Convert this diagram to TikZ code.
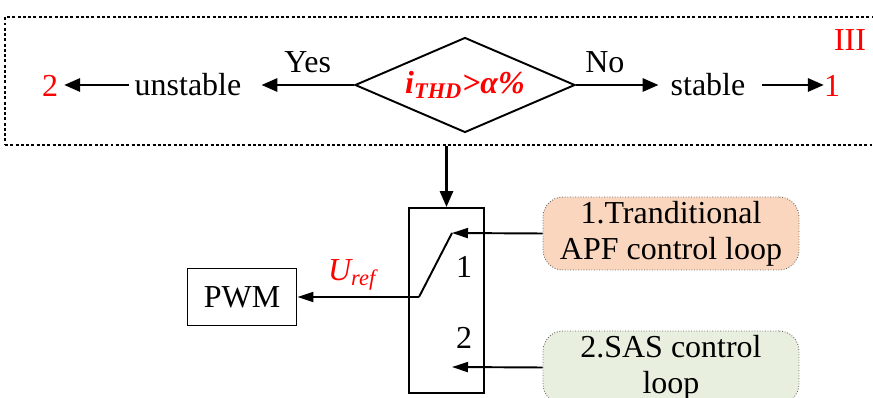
\documentclass[tikz,border=0pt]{standalone}
\usepackage{fontspec}
\setmainfont{Liberation Serif}
\usetikzlibrary{shapes.geometric, arrows.meta, positioning}

\definecolor{apffill}{RGB}{250,214,190}
\definecolor{sasfill}{RGB}{233,239,223}

\begin{document}
\begin{tikzpicture}[
    x=0.02cm, y=-0.02cm,
    font=\fontsize{18.2}{20.5}\selectfont,
    % decision diamond
    decision/.style={
        diamond,
        draw=black,
        line width=1.1pt,
        aspect=2.3,
        inner sep=0pt,
        minimum width=4.4cm,
        minimum height=1.9cm
    },
    % plain text block
    word/.style={
        inner sep=1pt
    },
    % red marker
    tag/.style={
        text=red,
        inner sep=1pt
    },
    % square blocks
    block/.style={
        rectangle,
        draw=black,
        line width=1.1pt,
        inner sep=0pt
    },
    % control loop boxes
    loopbox/.style={
        rectangle,
        rounded corners=20*0.02cm,
        draw=black!60,
        densely dotted,
        line width=0.5pt,
        minimum width=5.12cm,
        minimum height=1.46cm,
        align=center,
        inner sep=0pt
    },
    arrow/.style={
        -{Triangle[length=0.32cm, width=0.26cm]},
        line width=1.7pt
    },
    thinarrow/.style={
        -{Triangle[length=0.32cm, width=0.2cm]},
        line width=1.1pt
    }
]

\clip (0,0) rectangle (873,398);

% === Stability check (III) ===
\node[draw=black, line width=1.5pt, dash pattern=on 1.7pt off 1.3pt,
      minimum width=17.96cm, minimum height=2.56cm, inner sep=0pt] (frame) at (454,81) {};
\node[tag] (zone) at (850,40) {III};

\node[decision] (check) at (465,85) {\textcolor{red}{\bfseries\itshape i\textsubscript{THD}>α\%}};

\node[word] (unstable) at (188,85) {unstable};
\node[tag] (two) at (50,86) {2};
\node[word] (stable) at (708,85) {stable};
\node[tag] (one) at (832,86) {1};

\draw[arrow] (check.west) -- node[above=3pt, pos=0.5] (yes) {Yes} ([xshift=18*0.02cm]unstable.east);
\draw[arrow] ([xshift=-4*0.02cm]unstable.west) -- ([xshift=4*0.02cm]unstable.west -| two.east);
\draw[arrow] (check.east) -- node[above=3pt, pos=0.35] (no) {No} ([xshift=-10*0.02cm]stable.west);
\draw[arrow] ([xshift=15*0.02cm]stable.east) -- ([xshift=2*0.02cm]stable.east -| one.west);

% === Selector switch ===
\node[block, minimum width=1.5cm, minimum height=3.7cm] (sw) at (446.5,300.5) {};
\draw[arrow] (sw.north |- frame.south) -- (sw.north);

\coordinate (pivot) at (419,297);
\coordinate (pin1) at (452,233);
\coordinate (pin2) at (452,367);
\draw[line width=1.1pt] (pin1) -- (pivot);
\node[word] (n1) at (464,267) {1};
\node[word] (n2) at (464,338) {2};

% === PWM ===
\node[block, minimum width=2.18cm, minimum height=1.14cm] (pwm) at (242,297) {PWM};
\draw[thinarrow] (pivot) -- node[above=0pt, pos=0.55, text=red] (uref) {\itshape U\textsubscript{ref}} (pwm.east);

% === Control loops ===
\node[loopbox, fill=apffill] (apf) at (671,233.5) {1.Tranditional\\APF control loop};
\node[loopbox, fill=sasfill] (sas) at (671,367.5) {2.SAS control\\loop};

\draw[thinarrow] (apf.west) -- (pin1);
\draw[thinarrow] (sas.west) -- (pin2);

\end{tikzpicture}
\end{document}
